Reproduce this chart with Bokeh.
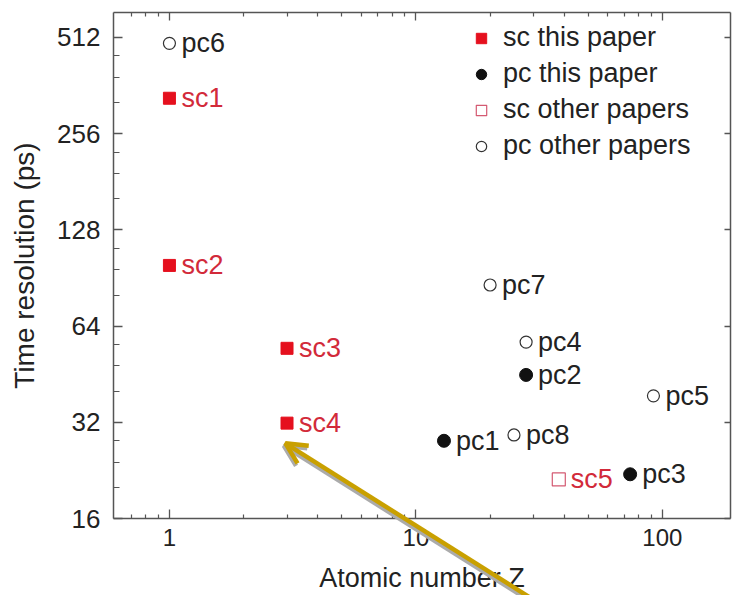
import math
from bokeh.plotting import figure
from bokeh.layouts import column
from bokeh.models import (FixedTicker, LogAxis, PrintfTickFormatter, Arrow, OpenHead,
                          Legend, LegendItem, ColumnDataSource, Range1d, LabelSet)
from bokeh.core.properties import value
from bokeh.embed import file_html
from bokeh.resources import INLINE

# ---------------- data ----------------
sc_this_names = ["sc1", "sc2", "sc3", "sc4"]
sc_this_z = [1, 1, 3, 3]
sc_this_t = [330, 99, 54.5, 31.8]

pc_this_names = ["pc1", "pc2", "pc3"]
pc_this_z = [13, 28, 74]
pc_this_t = [28, 45, 22]

sc_other_names = ["sc5"]
sc_other_z = [38]
sc_other_t = [21.2]

pc_other_names = ["pc4", "pc5", "pc6", "pc7", "pc8"]
pc_other_z = [28, 92, 1, 20, 25]
pc_other_t = [57, 38.7, 490, 86, 29.2]

legend_labels = ["sc this paper", "pc this paper", "sc other papers", "pc other papers"]

x_major = [1, 10, 100]
x_minor = [0.7, 0.8, 0.9, 2, 3, 4, 5, 6, 7, 8, 9, 20, 30, 40, 50, 60, 70, 80, 90]
y_major = [16, 32, 64, 128, 256, 512]
y_minor = [20, 24, 28, 40, 48, 56, 80, 96, 112, 160, 192, 224, 320, 384, 448]

x_range = (0.593, 189)
y_range = (16, 612)

# arrow pointing at sc4 (data units)
arrow_tip = (2.955, 28.0)
arrow_tail = (34.0, 8.6)

# ---------------- styles ----------------
FONT = "Liberation Sans"
RED = "#E5101E"
RED_TEXT = "#D22A3A"
OPEN_RED = "#D45A72"
BLACK = "#111111"
AXIS = "#555555"
GOLD = "#C9A000"
SHADOW = "#ABABAB"

W, H = 732, 595
BL, BR, BT, BB = 113, 2, 12, 74

p = figure(width=W, height=H, x_axis_type="log", y_axis_type="log",
           x_range=Range1d(*x_range), y_range=Range1d(*y_range),
           output_backend="svg", toolbar_location=None,
           min_border_left=BL, min_border_right=BR, min_border_top=BT, min_border_bottom=BB)
p.xgrid.visible = False
p.ygrid.visible = False
p.outline_line_color = None


def style_axis(ax, tick_in, minor_in, size):
    ax.axis_line_color = AXIS
    ax.axis_line_width = 1.5
    ax.major_tick_line_color = AXIS
    ax.minor_tick_line_color = AXIS
    ax.major_tick_line_width = 1.3
    ax.minor_tick_line_width = 1.2
    ax.major_tick_in = tick_in
    ax.major_tick_out = 0
    ax.minor_tick_in = minor_in
    ax.minor_tick_out = 0
    ax.major_label_text_font = FONT
    ax.major_label_text_font_size = size
    ax.major_label_text_color = "#222222"
    ax.axis_label_text_font = FONT
    ax.axis_label_text_font_style = "normal"
    ax.axis_label_text_color = "#222222"
    ax.formatter = PrintfTickFormatter(format="%d")


xa = p.xaxis[0]
xa.ticker = FixedTicker(ticks=x_major, minor_ticks=x_minor)
style_axis(xa, 9, 4, "24px")
xa.axis_label = "Atomic number Z"
xa.axis_label_text_font_size = "27px"
xa.major_label_standoff = 10
xa.axis_label_standoff = 14

ya = p.yaxis[0]
ya.ticker = FixedTicker(ticks=y_major, minor_ticks=y_minor)
style_axis(ya, 9, 6, "26px")
ya.axis_label = "Time resolution (ps)"
ya.axis_label_text_font_size = "28px"
ya.major_label_standoff = 13
ya.axis_label_standoff = 14

top = LogAxis(ticker=FixedTicker(ticks=x_major, minor_ticks=x_minor))
style_axis(top, 8, 4, "0px")
top.major_label_standoff = 0
top.major_label_overrides = {t: "" for t in x_major}
p.add_layout(top, "above")

right = LogAxis(ticker=FixedTicker(ticks=y_major, minor_ticks=[]))
style_axis(right, 6, 0, "0px")
right.major_label_standoff = 0
right.major_label_overrides = {t: "" for t in y_major}
p.add_layout(right, "right")

# ---------------- glyphs ----------------
src_sc_this = ColumnDataSource(dict(z=sc_this_z, t=sc_this_t, name=sc_this_names))
src_pc_this = ColumnDataSource(dict(z=pc_this_z, t=pc_this_t, name=pc_this_names))
src_sc_other = ColumnDataSource(dict(z=sc_other_z, t=sc_other_t, name=sc_other_names))
src_pc_other = ColumnDataSource(dict(z=pc_other_z, t=pc_other_t, name=pc_other_names))

r1 = p.scatter("z", "t", source=src_sc_this, marker="square", size=12,
               fill_color=RED, line_color=RED)
r2 = p.scatter("z", "t", source=src_pc_this, marker="circle", size=13,
               fill_color=BLACK, line_color=BLACK)
r3 = p.scatter("z", "t", source=src_sc_other, marker="square", size=13,
               fill_color="white", line_color=OPEN_RED, line_width=1.2)
r4 = p.scatter("z", "t", source=src_pc_other, marker="circle", size=12,
               fill_color="white", line_color="#333333", line_width=1.2)

for src, col in [(src_sc_this, RED_TEXT), (src_pc_this, "#222222"),
                 (src_sc_other, RED_TEXT), (src_pc_other, "#222222")]:
    p.add_layout(LabelSet(x="z", y="t", text="name", source=src, x_offset=12,
                          text_baseline="middle", text_font=value(FONT),
                          text_font_size=value("27px"), text_color=col))

# ---------------- legend ----------------
legend = Legend(items=[LegendItem(label=legend_labels[0], renderers=[r1]),
                       LegendItem(label=legend_labels[1], renderers=[r2]),
                       LegendItem(label=legend_labels[2], renderers=[r3]),
                       LegendItem(label=legend_labels[3], renderers=[r4])],
                location=(355, 357), orientation="vertical",
                border_line_color=None, background_fill_alpha=0,
                padding=0, margin=0, spacing=5, glyph_width=26, glyph_height=26,
                label_standoff=9, label_text_font=FONT, label_text_font_size="27px",
                label_text_color="#222222", label_height=30)
p.add_layout(legend)

# ---------------- arrow overlay (transparent figure on top, same scales) ----------------
# horizontally the overlay uses the same frame as the main plot; vertically its
# frame spans the whole canvas so the arrow can run past the x axis.
frame_h = H - BT - BB
ppy = frame_h / math.log2(y_range[1] / y_range[0])    # px per octave
frame_w = W - BL - BR
ppx = frame_w / math.log10(x_range[1] / x_range[0])   # px per decade

ov_y = (2 ** (math.log2(y_range[1]) - (H - BT) / ppy),
        2 ** (math.log2(y_range[1]) + BT / ppy))

ov = figure(width=W, height=H, x_axis_type="log", y_axis_type="log",
            x_range=Range1d(*x_range), y_range=Range1d(*ov_y),
            x_axis_location=None, y_axis_location=None,
            output_backend="svg", toolbar_location=None,
            min_border_left=BL, min_border_right=BR, min_border_top=0, min_border_bottom=0,
            styles={"position": "absolute", "top": "0px", "left": "0px"})
ov.grid.visible = False
ov.outline_line_color = None
ov.background_fill_color = None
ov.border_fill_color = None


def arrow_part(ox, oy, color):
    s = (arrow_tail[0] * 10 ** (ox / ppx), arrow_tail[1] * 2 ** (-oy / ppy))
    e = (arrow_tip[0] * 10 ** (ox / ppx), arrow_tip[1] * 2 ** (-oy / ppy))
    ov.add_layout(Arrow(end=OpenHead(size=21, line_color=color, line_width=4.5),
                        x_start=s[0], y_start=s[1], x_end=e[0], y_end=e[1],
                        line_color=color, line_width=4.5))


arrow_part(-1.5, 2.5, SHADOW)
arrow_part(0, 0, GOLD)

page = column(p, ov, spacing=0)

open("out.html", "w").write(file_html(page, INLINE))
